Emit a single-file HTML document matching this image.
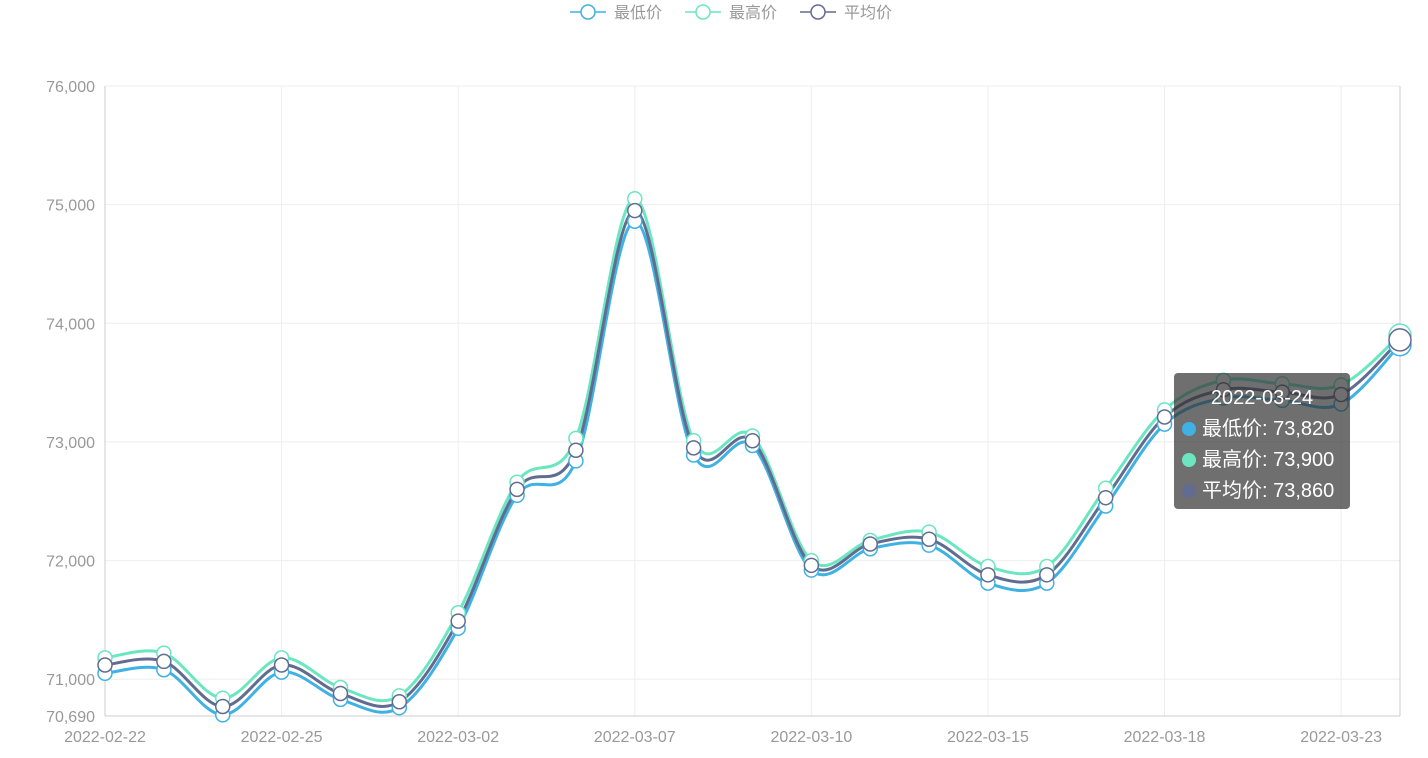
<!DOCTYPE html>
<html><head><meta charset="utf-8"><style>
body{margin:0;background:#fff;font-family:"Liberation Sans","Noto Sans CJK SC",sans-serif}
#c{position:absolute;left:0;top:0}
.tip{position:absolute;left:1174px;top:373px;width:176px;height:136px;background:rgba(50,50,50,0.7);border-radius:4px;color:#fff;font-size:20px;box-sizing:border-box;padding:10px 0 0 8px;line-height:31px}
.tip .d{display:inline-block;width:14px;height:14px;border-radius:7px;margin-right:6px;vertical-align:-1px}
</style></head><body>
<svg id="c" width="1428" height="758"></svg>
<div class="tip">
<div style="text-align:center;padding-right:8px">2022-03-24</div>
<div><span class="d" style="background:#3fb1e3"></span>最低价: 73,820</div>
<div><span class="d" style="background:#6be6c1"></span>最高价: 73,900</div>
<div><span class="d" style="background:#626c91"></span>平均价: 73,860</div>
</div>
<script>
const categories=["2022-02-22","2022-02-23","2022-02-24","2022-02-25","2022-02-28","2022-03-01","2022-03-02","2022-03-03","2022-03-04","2022-03-07","2022-03-08","2022-03-09","2022-03-10","2022-03-11","2022-03-14","2022-03-15","2022-03-16","2022-03-17","2022-03-18","2022-03-21","2022-03-22","2022-03-23","2022-03-24"];
const lowValues=[71050,71080,70700,71060,70830,70760,71430,72550,72840,74860,72890,72970,71920,72100,72130,71810,71810,72460,73150,73370,73350,73320,73820];
const highValues=[71180,71220,70840,71180,70930,70860,71560,72660,73030,75050,73010,73050,72000,72170,72240,71950,71950,72610,73270,73520,73490,73480,73900];
const avgValues=[71120,71150,70770,71120,70880,70810,71490,72600,72930,74950,72950,73010,71960,72140,72180,71880,71880,72530,73210,73440,73420,73400,73860];
const yTicks=[70690,71000,72000,73000,74000,75000,76000];
const yTickLabels=["70,690","71,000","72,000","73,000","74,000","75,000","76,000"];
const seriesNames=["最低价","最高价","平均价"];
const NS="http://www.w3.org/2000/svg",svg=document.getElementById('c');
const L=105,R=1400,T=86,B=716,yMin=70690,yMax=76000;
const x=i=>L+(R-L)*i/(categories.length-1);
const y=v=>B-(v-yMin)/(yMax-yMin)*(B-T);
function mk(t,a,p){const e=document.createElementNS(NS,t);for(const k in a)e.setAttribute(k,a[k]);(p||svg).appendChild(e);return e;}
// grid
yTicks.forEach((v,i)=>{
 if(v!==yMin){const g=mk('line',{x1:L,x2:R,y1:y(v),y2:y(v),stroke:'#eee'});
 
 }
 const t=mk('text',{x:L-10,y:y(v)+6,'text-anchor':'end','font-size':16,fill:'#999'});t.textContent=yTickLabels[i];
 
 
});
categories.forEach((c,i)=>{
 if(i%3===0){
  const g=mk('line',{x1:x(i),x2:x(i),y1:T,y2:B,stroke:'#eee'});
  
  
  const t=mk('text',{x:x(i),y:B+26,'text-anchor':'middle','font-size':16,fill:'#999'});t.textContent=c;
  
  
 }
});
const ya=mk('line',{x1:L,x2:L,y1:T,y2:B,stroke:'#ccc'});


const xa=mk('line',{x1:L,x2:R,y1:B,y2:B,stroke:'#ccc'});


const ptr=mk('line',{x1:R,x2:R,y1:T,y2:B,stroke:'#ccc'});


function path(vals){
 const p=vals.map((v,i)=>[x(i),y(v)]);let d='M'+p[0][0]+','+p[0][1];
 for(let i=0;i<p.length-1;i++){const p0=p[Math.max(0,i-1)],p1=p[i],p2=p[i+1],p3=p[Math.min(p.length-1,i+2)];
  const c1=[p1[0]+(p2[0]-p0[0])/6,p1[1]+(p2[1]-p0[1])/6],c2=[p2[0]-(p3[0]-p1[0])/6,p2[1]-(p3[1]-p1[1])/6];
  d+=' C'+c1+' '+c2+' '+p2;}
 return d;}
const series=[[lowValues,'#3fb1e3','low'],[highValues,'#6be6c1','high'],[avgValues,'#626c91','avg']];
series.forEach(([vals,col,n])=>{
 const pe=mk('path',{d:path(vals),fill:'none',stroke:col,'stroke-width':3});
 
 
});
series.forEach(([vals,col,n])=>{
 vals.forEach((v,i)=>{const last=i===vals.length-1;
  const c=mk('circle',{cx:x(i),cy:y(v),r:last?11:7,fill:'#fff',stroke:col,'stroke-width':1.5});
  
  
 });
});
// legend
const lg=mk('g',{});


const lx=[570,685,800],cols=['#3fb1e3','#6be6c1','#626c91'];
seriesNames.forEach((n,i)=>{
 const g=mk('g',{},lg);
 
 
 mk('line',{x1:lx[i],x2:lx[i]+36,y1:12,y2:12,stroke:cols[i],'stroke-width':1.5},g);
 mk('circle',{cx:lx[i]+18,cy:12,r:7,fill:'#fff',stroke:cols[i],'stroke-width':1.5},g);
 const t=mk('text',{x:lx[i]+44,y:18,'font-size':16,fill:'#999'},g);t.textContent=n;
});
</script>
</body></html>
